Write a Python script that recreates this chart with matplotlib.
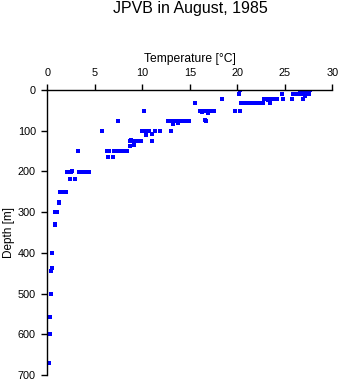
import numpy as np
import matplotlib
matplotlib.use("Agg")
import matplotlib.pyplot as plt

plt.rcParams['font.family'] = ['Liberation Sans', 'DejaVu Sans']

# temperature [degC] and depth [m]
temp = [0.14, 0.24, 0.24, 0.35, 0.35, 0.45, 0.49, 0.77, 0.80,
        0.80, 0.90, 1.05, 1.22, 1.25,
        1.30, 1.45, 1.60, 1.75, 1.90,
        2.10, 2.45, 2.55, 2.35, 2.90,
        3.20, 3.35, 3.50, 4.00, 4.20, 4.40,
        5.76, 6.30, 6.50, 6.40, 6.95, 7.00, 7.20, 7.45, 7.70, 8.00, 8.40, 7.44,
        8.67, 8.85, 9.10, 9.40, 9.80, 8.70, 9.10, 8.75,
        10.18, 9.95, 10.07, 10.25, 10.36, 10.70, 10.96, 11.00, 11.30, 11.84,
        12.65, 12.90, 13.10, 13.35, 13.06, 13.27, 13.76,
        13.76, 14.05, 14.35, 14.65, 14.90, 16.70, 16.60,
        15.50,
        16.10, 16.35, 16.60, 16.90, 17.20, 17.50, 16.30, 16.95,
        18.40, 19.80, 20.30, 20.30, 20.20, 20.40,
        20.80, 21.00, 21.20, 21.50, 21.80, 22.10, 22.40, 22.75, 23.40,
        22.80, 23.10, 23.40, 23.70, 24.00, 24.20, 23.20,
        24.70, 24.80, 25.90, 25.80,
        26.30, 26.60, 26.90, 27.20, 27.50, 27.10,
        26.90,
        26.60, 26.90, 27.20, 27.45, 27.65]
depth = [671, 600, 558, 500, 444, 437, 401, 328, 331,
         300, 300, 300, 275, 278,
         251, 251, 251, 251, 251,
         201, 201, 199, 219, 219,
         150, 201, 201, 201, 201, 201,
         101, 150, 150, 164, 164, 150, 150, 150, 150, 150, 150, 76,
         126, 125, 126, 126, 126, 138, 135, 122,
         51, 101, 101, 101, 110, 101, 126, 109, 101, 101,
         76, 76, 76, 76, 101, 84, 82,
         76, 76, 76, 76, 76, 76, 74,
         31,
         52, 52, 52, 52, 52, 52, 55, 56,
         21, 52, 52, 1, 11, 31,
         31, 33, 31, 31, 31, 31, 31, 31, 31,
         21, 21, 21, 21, 21, 21, 24,
         11, 21, 11, 21,
         11, 11, 11, 11, 11, 14,
         21,
         1, 1, 1, 1, 1]

fig = plt.figure(figsize=(3.41, 3.84), dpi=100)
ax = fig.add_axes([47.5 / 341, 1 - 375 / 384, (332.3 - 47.5) / 341, (375 - 90) / 384])

ax.plot(temp, depth, 's', color='#0000ff', markersize=2.5, markeredgewidth=0)

ax.set_xlim(0, 30)
ax.set_ylim(700, 0)
ax.set_xticks(np.arange(0, 31, 5))
ax.set_yticks(np.arange(0, 701, 100))
ax.xaxis.tick_top()
ax.xaxis.set_label_position('top')
ax.spines['right'].set_visible(False)
ax.spines['bottom'].set_visible(False)
for s in ['top', 'left']:
    ax.spines[s].set_linewidth(1.0)
ax.tick_params(axis='both', direction='out', length=4, width=1.0, labelsize=7.8, pad=4.3)
ax.set_xlabel('Temperature [\u00b0C]', fontsize=8.7, labelpad=5)
ax.set_ylabel('Depth [m]', fontsize=8.5, labelpad=2)

fig.text(190 / 341, 1 - 9 / 384, 'JPVB in August, 1985', ha='center', va='center', fontsize=11.5)

fig.savefig('out.png', dpi=100)
